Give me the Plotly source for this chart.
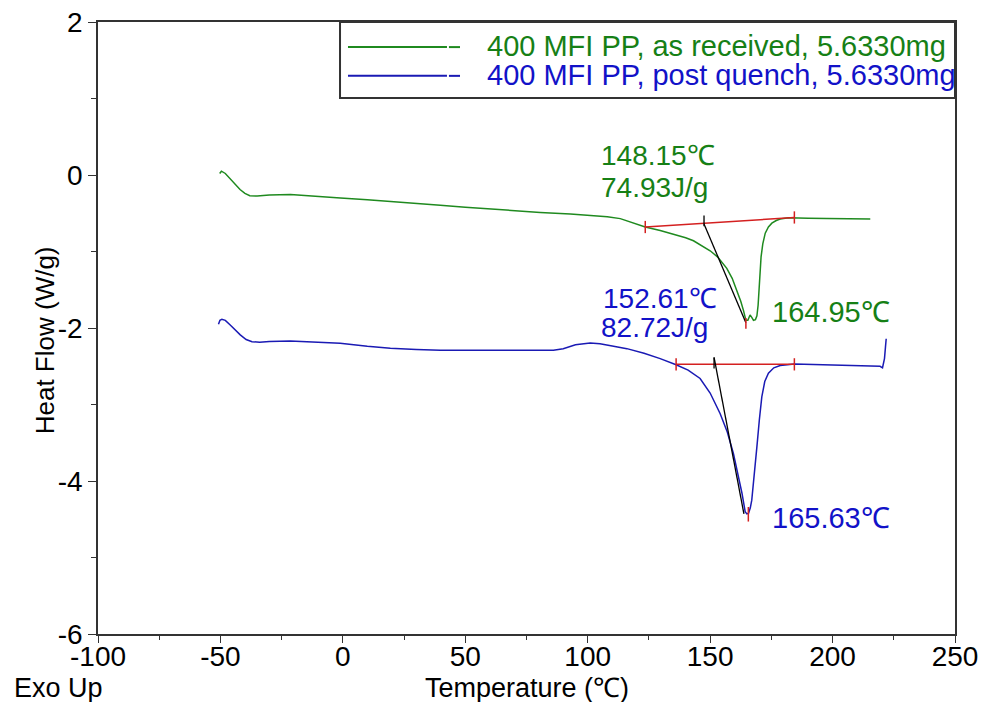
import plotly.graph_objects as go

# ---------------- data ----------------
green_T = [-50.3, -49.6, -48, -46, -44, -42, -40, -38, -35, -30, -21.4, -10, -1, 10, 19.4, 30,
           39.8, 50, 60.2, 72, 80.6, 92.9, 101, 108, 113.3, 118, 123.5, 129.6, 135, 140, 143.2,
           147, 150, 153, 156.8, 159, 160.9, 162.5, 163.6, 164.6, 165.4, 166.3, 167, 167.7,
           168.5, 169.1, 169.6, 170, 170.4, 170.8, 171.5, 172.5, 173.8, 175.2, 177, 178.6,
           182, 184.4, 190, 197.7, 205, 215.4]
green_HF = [0.02, 0.05, 0.02, -0.05, -0.12, -0.19, -0.24, -0.27, -0.275, -0.26, -0.255, -0.275,
            -0.30, -0.325, -0.35, -0.37, -0.395, -0.42, -0.445, -0.47, -0.49, -0.51, -0.53,
            -0.545, -0.57, -0.62, -0.68, -0.725, -0.77, -0.82, -0.86, -0.93, -0.99, -1.07,
            -1.22, -1.35, -1.5, -1.65, -1.77, -1.9, -1.9, -1.83, -1.86, -1.9, -1.89, -1.84,
            -1.7, -1.5, -1.28, -1.07, -0.9, -0.76, -0.68, -0.63, -0.595, -0.575, -0.56, -0.56,
            -0.565, -0.57, -0.57, -0.575]

blue_T = [-50.8, -50.2, -49.4, -48, -46, -44, -41.9, -39.5, -37.1, -34, -30, -21.5, -10, -1.1,
          10, 19.4, 30, 39.8, 50, 60.2, 75, 86, 90, 95, 101, 105, 110, 116, 123, 129.6, 136.1,
          141, 145.9, 150, 154.1, 157, 159.5, 161.5, 163, 164.3, 165.0, 165.7, 166.4, 167, 168,
          169.1, 170.1, 171.1, 172.3, 173.8, 176, 178.6, 184.4, 195, 204.5, 212, 219.4, 220.4,
          221.2, 221.6, 221.9]
blue_HF = [-1.95, -1.9, -1.885, -1.9, -1.96, -2.03, -2.09, -2.15, -2.18, -2.185, -2.175, -2.17,
           -2.185, -2.2, -2.24, -2.265, -2.28, -2.29, -2.29, -2.29, -2.29, -2.29, -2.27, -2.22,
           -2.195, -2.205, -2.235, -2.27, -2.33, -2.4, -2.48, -2.55, -2.66, -2.85, -3.12, -3.36,
           -3.64, -3.93, -4.16, -4.40, -4.43, -4.42, -4.35, -4.25, -3.95, -3.55, -3.2, -2.9,
           -2.7, -2.59, -2.52, -2.49, -2.47, -2.48, -2.49, -2.495, -2.5, -2.52, -2.4, -2.25,
           -2.14]

# peak-integration marks
green_base_T = [123.5, 184.4]
green_base_HF = [-0.68, -0.555]
green_tan_T = [147.5, 164.6]
green_tan_HF = [-0.64, -1.93]
green_onset_tick_HF = [-0.53, -0.67]
green_peak_T = 164.6
green_peak_tick_HF = [-1.87, -2.01]

blue_base_T = [136.1, 184.4]
blue_base_HF = [-2.475, -2.475]
blue_tan_T = [151.6, 163.8]
blue_tan_HF = [-2.385, -4.43]
blue_onset_tick_HF = [-2.385, -2.53]
blue_peak_T = 165.6
blue_peak_tick_HF = [-4.34, -4.53]

legend_labels = ["400 MFI PP, as received, 5.6330mg", "400 MFI PP, post quench, 5.6330mg"]
green_labels = ["148.15℃", "74.93J/g", "164.95℃"]
blue_labels = ["152.61℃", "82.72J/g", "165.63℃"]
x_ticks = [-100, -50, 0, 50, 100, 150, 200, 250]
y_ticks = [-6, -4, -2, 0, 2]

# ---------------- styles ----------------
FONT = "Liberation Sans, Arial, Helvetica, sans-serif"
GREEN = "#1f8a1f"
GREEN_TXT = "#168016"
BLUE = "#1a1ab4"
BLUE_TXT = "#1212c8"
RED = "#d42020"
AX = "#333333"

fig = go.Figure()

def line(x, y, color, width=1.5):
    fig.add_trace(go.Scatter(x=x, y=y, mode="lines", line=dict(color=color, width=width),
                             showlegend=False, hoverinfo="skip"))

line(green_T, green_HF, GREEN)
line(blue_T, blue_HF, BLUE)

TK = 0.08
for bT, bH, tT, tH, otk, pT, ptk in [
    (green_base_T, green_base_HF, green_tan_T, green_tan_HF, green_onset_tick_HF, green_peak_T, green_peak_tick_HF),
    (blue_base_T, blue_base_HF, blue_tan_T, blue_tan_HF, blue_onset_tick_HF, blue_peak_T, blue_peak_tick_HF),
]:
    line(bT, bH, RED, 1.5)
    for t, h in zip(bT, bH):
        line([t, t], [h + TK, h - TK], RED, 1.5)
    line(tT, tH, "black", 1.3)
    line([tT[0], tT[0]], otk, "black", 1.3)
    line([pT, pT], ptk, RED, 1.5)

# text labels on the curves
def label(x, y, text, color, size=28):
    fig.add_annotation(x=x, y=y, xref="x", yref="y", text=text, showarrow=False,
                       xanchor="left", yanchor="middle",
                       font=dict(family=FONT, size=size, color=color))

label(104.8, 0.26, green_labels[0], GREEN_TXT)
label(104.8, -0.16, green_labels[1], GREEN_TXT)
label(174.3, -1.79, green_labels[2], GREEN_TXT, 29)
label(105.6, -1.61, blue_labels[0], BLUE_TXT)
label(104.8, -1.99, blue_labels[1], BLUE_TXT)
label(174.3, -4.49, blue_labels[2], BLUE_TXT, 29)

# manual legend box
fig.add_shape(type="rect", xref="paper", yref="paper", x0=0.2824, x1=1.0, y0=0.8758, y1=1.0,
              line=dict(color=AX, width=2), fillcolor="white", layer="above")
for yy, col, txt, tcol in [(0.959, GREEN, legend_labels[0], GREEN_TXT),
                           (0.912, BLUE, legend_labels[1], BLUE_TXT)]:
    fig.add_shape(type="line", xref="paper", yref="paper", x0=0.2917, x1=0.4072, y0=yy, y1=yy,
                  line=dict(color=col, width=2), layer="above")
    fig.add_shape(type="line", xref="paper", yref="paper", x0=0.4095, x1=0.4224, y0=yy, y1=yy,
                  line=dict(color=col, width=2), layer="above")
    fig.add_annotation(x=0.4515, y=yy + 0.002, xref="paper", yref="paper", text=txt,
                       showarrow=False, xanchor="left", yanchor="middle",
                       font=dict(family=FONT, size=29, color=tcol))

# axis titles and "Exo Up"
fig.add_annotation(x=0.5006, y=-0.0880, xref="paper", yref="paper", text="Temperature (℃)",
                   showarrow=False, xanchor="center", yanchor="middle",
                   font=dict(family=FONT, size=27, color="black"))
fig.add_annotation(x=-0.0618, y=0.480, xref="paper", yref="paper", text="Heat Flow (W/g)",
                   showarrow=False, xanchor="center", yanchor="middle", textangle=-90,
                   font=dict(family=FONT, size=26, color="black"))
fig.add_annotation(x=-0.1003, y=-0.0880, xref="paper", yref="paper", text="Exo Up",
                   showarrow=False, xanchor="left", yanchor="middle",
                   font=dict(family=FONT, size=27, color="black"))

axis_common = dict(showgrid=False, zeroline=False, showline=True, linecolor=AX, linewidth=1.5,
                   mirror=True, ticks="outside", tickcolor=AX, tickwidth=1.3,
                   tickfont=dict(family=FONT, size=28, color="black"))
fig.update_xaxes(range=[-100, 250], tickvals=x_ticks, ticktext=[str(v) for v in x_ticks],
                 ticklen=7, ticklabelstandoff=-10,
                 minor=dict(dtick=25, ticks="outside", ticklen=4, tickcolor=AX, tickwidth=1.3),
                 **axis_common)
fig.update_yaxes(range=[-6, 2], tickvals=y_ticks, ticktext=[str(v) for v in y_ticks],
                 ticklen=8,
                 minor=dict(dtick=1, ticks="outside", ticklen=5, tickcolor=AX, tickwidth=1.3),
                 **axis_common)

fig.update_layout(width=984, height=702, margin=dict(l=98, r=29, t=22, b=68, autoexpand=False),
                  plot_bgcolor="white", paper_bgcolor="white", showlegend=False,
                  font=dict(family=FONT))

fig.write_html("out.html")
